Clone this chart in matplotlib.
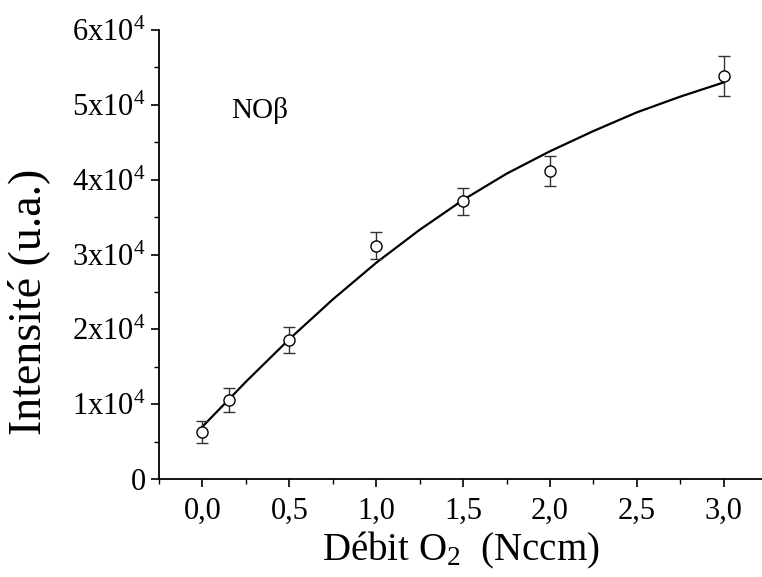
import numpy as np
import matplotlib
matplotlib.use("Agg")
import matplotlib.pyplot as plt
from matplotlib.ticker import MultipleLocator, FuncFormatter

plt.rcParams['font.family'] = ['Liberation Serif', 'DejaVu Serif']
plt.rcParams['mathtext.fontset'] = 'custom'
plt.rcParams['mathtext.rm'] = 'Liberation Serif'
plt.rcParams['mathtext.it'] = 'Liberation Serif:italic'

# mesures NO beta
debit = [0.0, 0.15, 0.5, 1.0, 1.5, 2.0, 3.0]
intensite = [6300, 10600, 18600, 31200, 37100, 41100, 53850]
erreur = [1450, 1600, 1700, 1800, 1850, 2000, 2700]

# courbe d'ajustement
fit_x = [0.0, 0.25, 0.5, 0.75, 1.0, 1.25, 1.5, 1.75, 2.0, 2.25, 2.5, 2.75, 3.0]
fit_y = [7000, 13000, 18700, 24000, 28900, 33300, 37300, 40800, 43800,
         46500, 49000, 51100, 53000]

fig = plt.figure(figsize=(7.62, 5.77), dpi=100)
ax = fig.add_axes([0.2087, 0.1698, 0.7913, 0.7782])

ax.plot(fit_x, fit_y, color='black', lw=1.6, zorder=2)
ax.errorbar(debit, intensite, yerr=erreur, fmt='o', mfc='white', mec='black',
            ms=8, mew=1.0, ecolor='#333333', elinewidth=1.0, capsize=4,
            capthick=1.0, zorder=3)

ax.set_xlim(-0.25, 3.22)
ax.set_ylim(0, 60000)

ax.spines['top'].set_visible(False)
ax.spines['right'].set_visible(False)
ax.spines['left'].set_linewidth(1.3)
ax.spines['bottom'].set_linewidth(1.3)

ax.xaxis.set_major_locator(MultipleLocator(0.5))
ax.xaxis.set_minor_locator(MultipleLocator(0.25))
ax.yaxis.set_major_locator(MultipleLocator(10000))
ax.yaxis.set_minor_locator(MultipleLocator(5000))

ax.xaxis.set_major_formatter(FuncFormatter(lambda v, p: f"{v:.1f}".replace('.', ',')))
ax.yaxis.set_major_formatter(FuncFormatter(
    lambda v, p: "0" if v == 0 else f"{int(round(v / 10000))}x10$^4$"))

ax.tick_params(which='major', direction='out', length=6, width=1.2, labelsize=22)
ax.tick_params(which='minor', direction='out', length=3.5, width=1.0)
ax.tick_params(axis='x', pad=7)

ax.set_xlabel("Débit O$_2$  (Nccm)", fontsize=28, labelpad=3)
ax.set_ylabel("Intensité (u.a.)", fontsize=33)
ax.yaxis.set_label_coords(-0.18, 0.394)

ax.text(0.167, 48300, "NOβ", fontsize=21, ha='left', va='baseline')

fig.savefig("out.png", dpi=100)
